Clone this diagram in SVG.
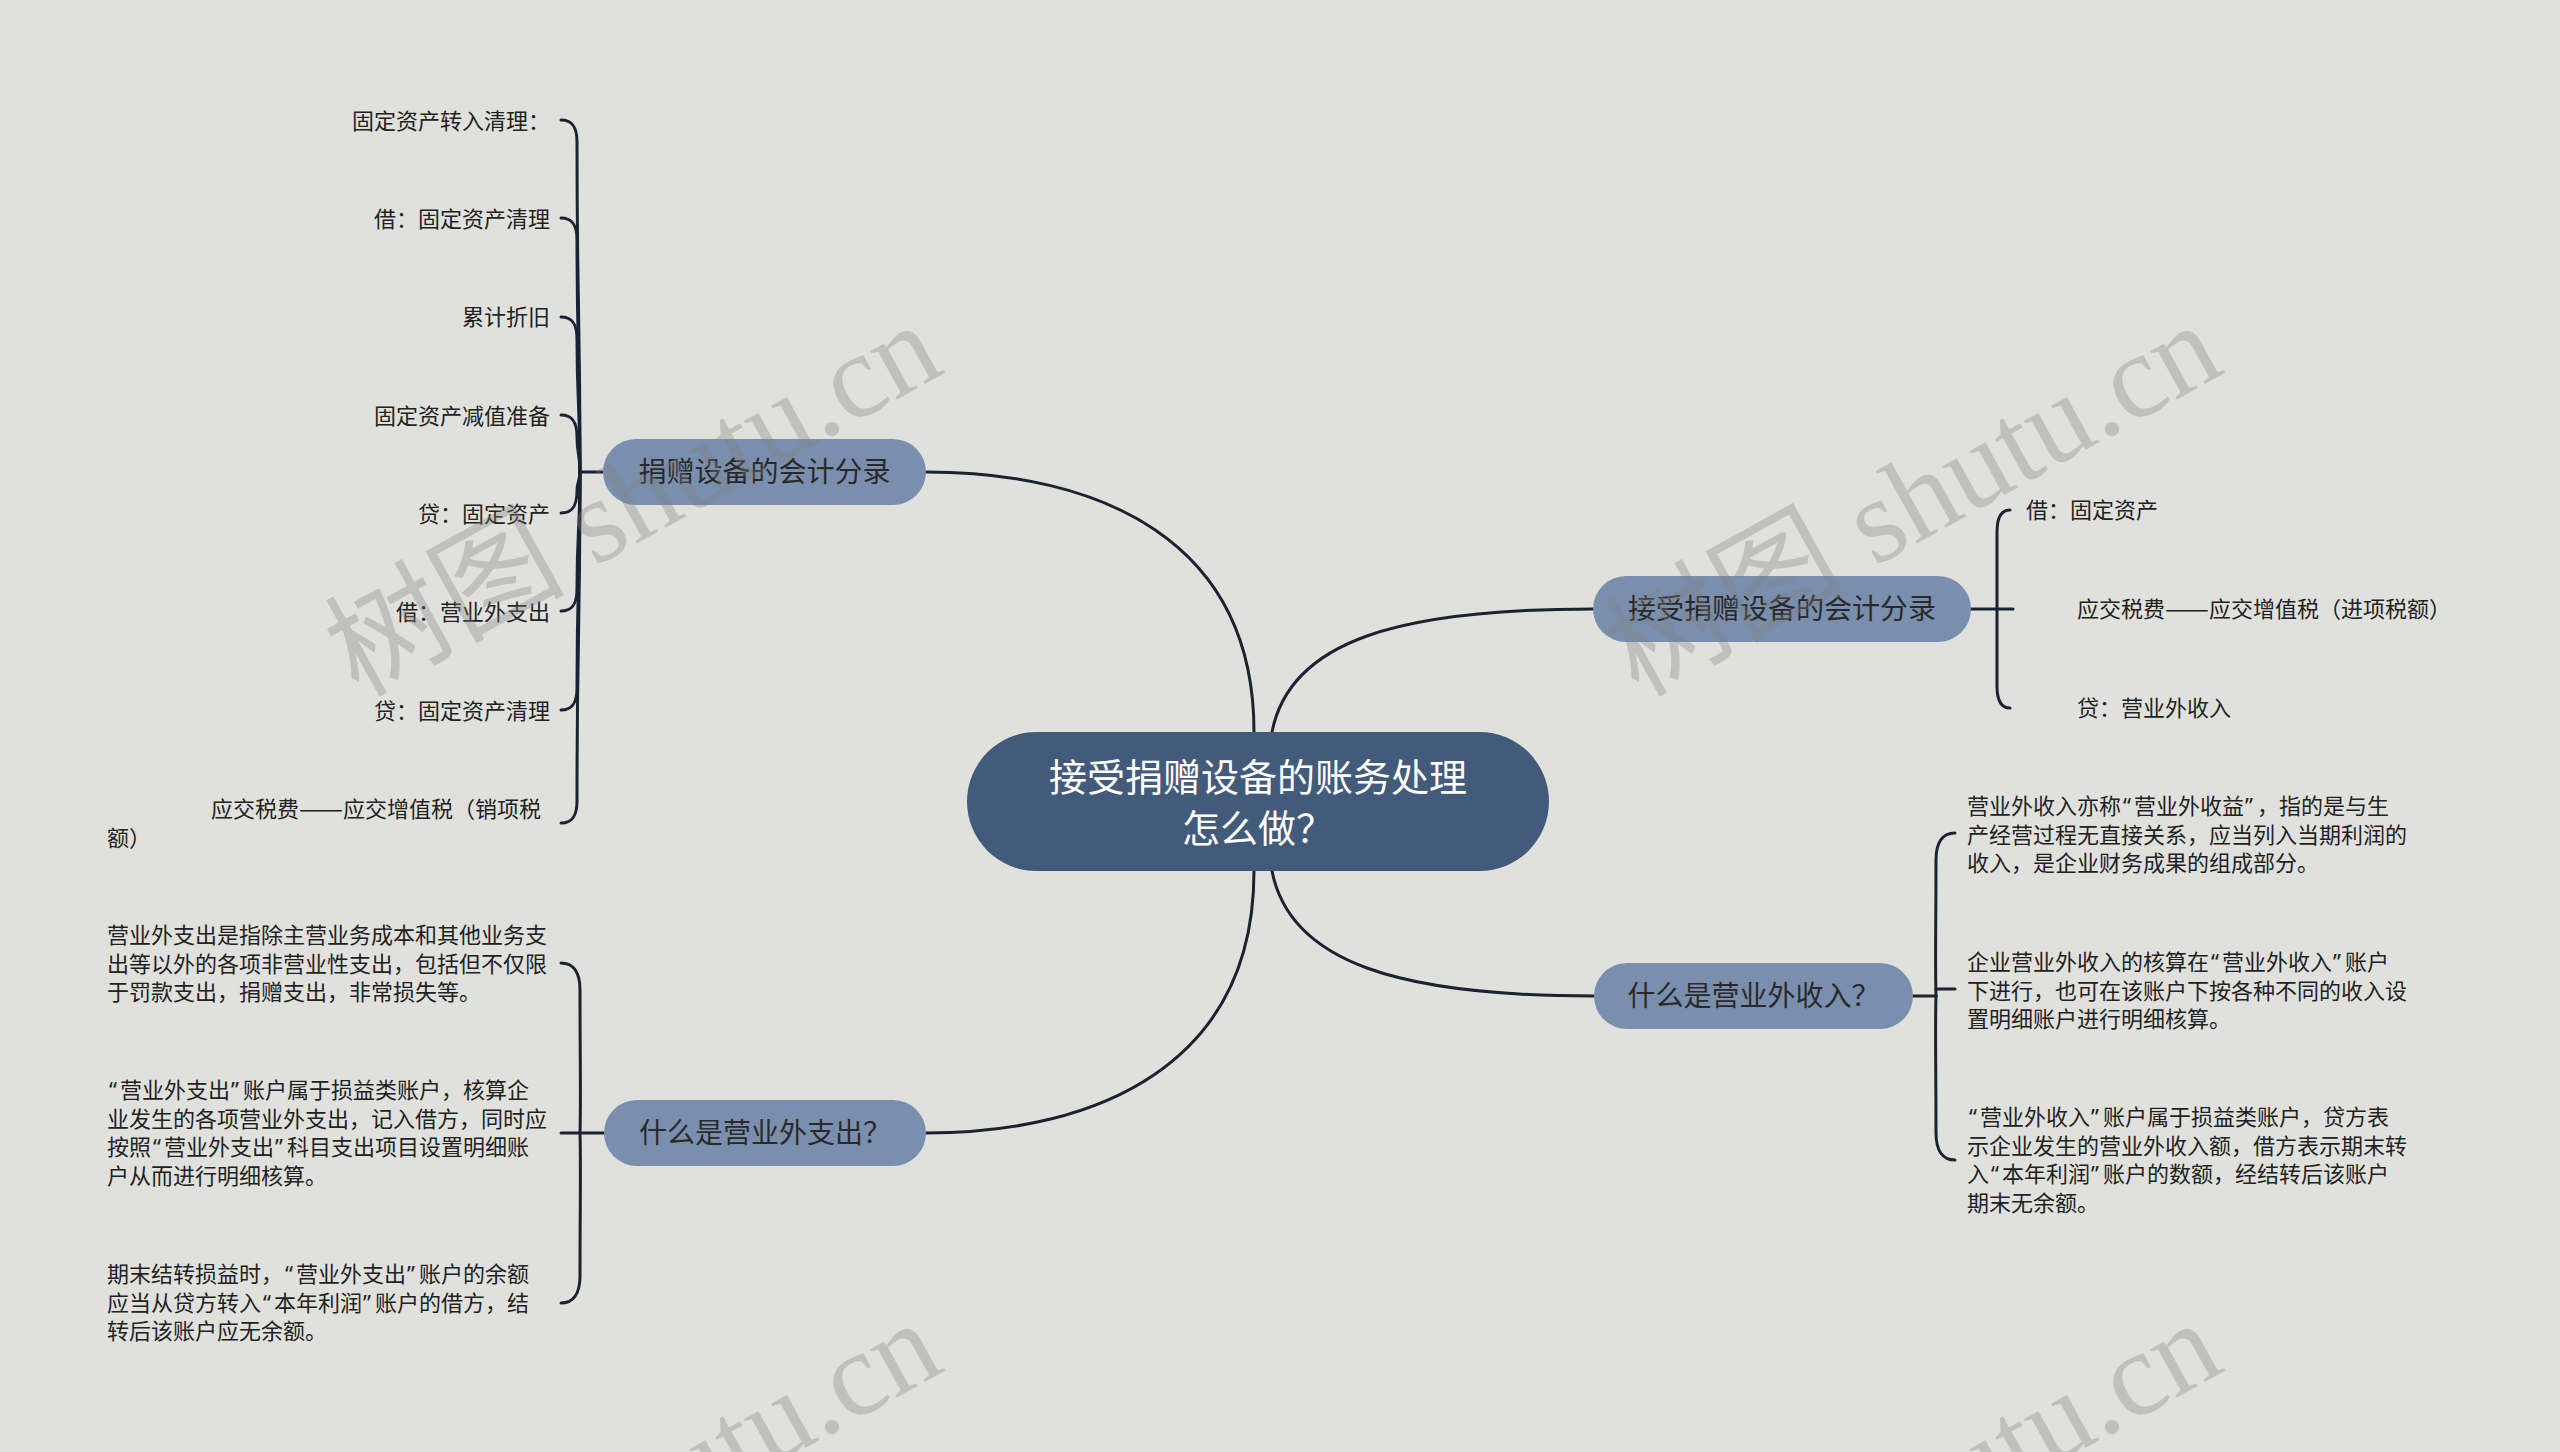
<svg xmlns="http://www.w3.org/2000/svg" width="2560" height="1452" viewBox="0 0 2560 1452">
<style>
.bg{fill:#e0e1dd}
.root{fill:#435b7a}
.sub{fill:#7a8fad}
.rt{font-family:"Noto Sans CJK SC","Noto Sans",sans-serif;font-size:38px;fill:#ffffff;text-anchor:middle}
.st{font-family:"Noto Sans CJK SC","Noto Sans",sans-serif;font-size:28px;fill:#2a2a2a;text-anchor:middle}
.lt{font-family:"Noto Sans CJK SC","Noto Sans",sans-serif;font-size:22px;fill:#222222}
.q{font-family:"Noto Sans","Noto Sans CJK SC",sans-serif}
.end{text-anchor:end}
.ln{fill:none;stroke:#1b2232;stroke-width:3;stroke-linecap:round}
.wm{font-family:"Liberation Serif","Noto Sans CJK SC",serif;font-size:120px;fill:#808080;fill-opacity:0.33}
</style>
<rect class="bg" x="0" y="0" width="2560" height="1452"/>

<g id="connectors">
  <path class="ln" d="M926,472 C1100,472 1254,540 1254,732"/>
  <path class="ln" d="M1272,732 C1290,640 1400,609 1593,609"/>
  <path class="ln" d="M1272,871 C1290,963 1400,996 1594,996"/>
  <path class="ln" d="M1254,871 C1254,1063 1100,1133 926,1133"/>

  <path class="ln" d="M603,472 L580,472"/>
  <path class="ln" d="M561,120 C573,120 577,128 577,142 C577,307 580,307 580,472"/>
  <path class="ln" d="M561,218 C573,218 577,226 577,240 C577,356 580,356 580,472"/>
  <path class="ln" d="M561,317 C573,317 577,325 577,339 C577,405 580,405 580,472"/>
  <path class="ln" d="M561,415 C573,415 577,423 577,437 C577,454 580,454 580,472"/>
  <path class="ln" d="M561,513 C573,513 577,505 577,491 C577,481 580,481 580,472"/>
  <path class="ln" d="M561,611 C573,611 577,603 577,589 C577,530 580,530 580,472"/>
  <path class="ln" d="M561,710 C573,710 577,702 577,688 C577,580 580,580 580,472"/>
  <path class="ln" d="M561,823 C573,823 577,815 577,801 C577,636 580,636 580,472"/>

  <path class="ln" d="M1971,609 L2013,609"/>
  <path class="ln" d="M2010,510 C2001,510 1997,518 1997,532 C1997,570 1997,590 1997,609"/>
  <path class="ln" d="M2010,708 C2001,708 1997,700 1997,686 C1997,648 1997,628 1997,609"/>

  <path class="ln" d="M1913,996 L1936,996"/>
  <path class="ln" d="M1936,989 L1955,989"/>
  <path class="ln" d="M1955,833 C1943,833 1936,842 1936,860 C1936,930 1935,960 1936,996"/>
  <path class="ln" d="M1955,1160 C1943,1160 1936,1151 1936,1133 C1936,1060 1935,1030 1936,996"/>

  <path class="ln" d="M604,1133 L561,1133"/>
  <path class="ln" d="M561,963 C573,963 580,972 580,990 C580,1060 581,1100 580,1133"/>
  <path class="ln" d="M561,1303 C573,1303 580,1294 580,1276 C580,1206 581,1166 580,1133"/>
</g>

<g id="root">
  <rect class="root" x="967" y="732" width="582" height="139" rx="69.5" ry="69.5"/>
  <text class="rt" x="1258" y="791">接受捐赠设备的账务处理</text>
  <text class="rt" x="1258" y="842">怎么做？</text>
</g>

<g id="node-juanzeng">
  <rect class="sub" x="603" y="439" width="323" height="66" rx="33" ry="33"/>
  <text class="st" x="764.5" y="482">捐赠设备的会计分录</text>
</g>
<g id="node-jieshou">
  <rect class="sub" x="1593" y="576" width="378" height="66" rx="33" ry="33"/>
  <text class="st" x="1782" y="619">接受捐赠设备的会计分录</text>
</g>
<g id="node-shouru">
  <rect class="sub" x="1594" y="963" width="319" height="66" rx="33" ry="33"/>
  <text class="st" x="1753.5" y="1006">什么是营业外收入？</text>
</g>
<g id="node-zhichu">
  <rect class="sub" x="604" y="1100" width="322" height="66" rx="33" ry="33"/>
  <text class="st" x="765" y="1143">什么是营业外支出？</text>
</g>

<g id="leaves-juanzeng">
  <text class="lt end" x="550" y="129">固定资产转入清理：</text>
  <text class="lt end" x="550" y="227">借：固定资产清理</text>
  <text class="lt end" x="550" y="325">累计折旧</text>
  <text class="lt end" x="550" y="424">固定资产减值准备</text>
  <text class="lt end" x="550" y="522">贷：固定资产</text>
  <text class="lt end" x="550" y="620">借：营业外支出</text>
  <text class="lt end" x="550" y="719">贷：固定资产清理</text>
  <text class="lt" x="211" y="817">应交税费<tspan x="299" textLength="44" lengthAdjust="spacingAndGlyphs">——</tspan><tspan x="343">应交增值税（销项税</tspan></text>
  <text class="lt" x="107" y="846">额）</text>
</g>

<g id="leaves-jieshou">
  <text class="lt" x="2026" y="518">借：固定资产</text>
  <text class="lt" x="2077" y="617">应交税费<tspan x="2165" textLength="44" lengthAdjust="spacingAndGlyphs">——</tspan><tspan x="2209">应交增值税（进项税额）</tspan></text>
  <text class="lt" x="2077" y="716">贷：营业外收入</text>
</g>

<g id="leaves-shouru">
  <text class="lt" x="1967" y="814">营业外收入亦称<tspan class="q" x="2123">“</tspan><tspan x="2134">营业外收益</tspan><tspan class="q" x="2245">”</tspan><tspan x="2257">，指的是与生</tspan></text>
  <text class="lt" x="1967" y="842.6">产经营过程无直接关系，应当列入当期利润的</text>
  <text class="lt" x="1967" y="871.2">收入，是企业财务成果的组成部分。</text>
  <text class="lt" x="1967" y="970">企业营业外收入的核算在<tspan class="q" x="2211">“</tspan><tspan x="2222">营业外收入</tspan><tspan class="q" x="2333">”</tspan><tspan x="2345">账户</tspan></text>
  <text class="lt" x="1967" y="998.6">下进行，也可在该账户下按各种不同的收入设</text>
  <text class="lt" x="1967" y="1027.2">置明细账户进行明细核算。</text>
  <text class="lt" x="1967" y="1125"><tspan class="q" x="1969">“</tspan><tspan x="1980">营业外收入</tspan><tspan class="q" x="2091">”</tspan><tspan x="2103">账户属于损益类账户，贷方表</tspan></text>
  <text class="lt" x="1967" y="1153.6">示企业发生的营业外收入额，借方表示期末转</text>
  <text class="lt" x="1967" y="1182.2">入<tspan class="q" x="1991">“</tspan><tspan x="2002">本年利润</tspan><tspan class="q" x="2091">”</tspan><tspan x="2103">账户的数额，经结转后该账户</tspan></text>
  <text class="lt" x="1967" y="1210.8">期末无余额。</text>
</g>

<g id="leaves-zhichu">
  <text class="lt" x="107" y="943">营业外支出是指除主营业务成本和其他业务支</text>
  <text class="lt" x="107" y="971.6">出等以外的各项非营业性支出，包括但不仅限</text>
  <text class="lt" x="107" y="1000.2">于罚款支出，捐赠支出，非常损失等。</text>
  <text class="lt" x="107" y="1098"><tspan class="q" x="109">“</tspan><tspan x="120">营业外支出</tspan><tspan class="q" x="231">”</tspan><tspan x="243">账户属于损益类账户，核算企</tspan></text>
  <text class="lt" x="107" y="1126.6">业发生的各项营业外支出，记入借方，同时应</text>
  <text class="lt" x="107" y="1155.2">按照<tspan class="q" x="153">“</tspan><tspan x="164">营业外支出</tspan><tspan class="q" x="275">”</tspan><tspan x="287">科目支出项目设置明细账</tspan></text>
  <text class="lt" x="107" y="1183.8">户从而进行明细核算。</text>
  <text class="lt" x="107" y="1282">期末结转损益时，<tspan class="q" x="285">“</tspan><tspan x="296">营业外支出</tspan><tspan class="q" x="407">”</tspan><tspan x="419">账户的余额</tspan></text>
  <text class="lt" x="107" y="1310.6">应当从贷方转入<tspan class="q" x="263">“</tspan><tspan x="274">本年利润</tspan><tspan class="q" x="363">”</tspan><tspan x="375">账户的借方，结</tspan></text>
  <text class="lt" x="107" y="1339.2">转后该账户应无余额。</text>
</g>

<g id="watermarks">
  <text class="wm" x="358" y="698" transform="rotate(-29 358 698)">树图 shutu.cn</text>
  <text class="wm" x="1638" y="698" transform="rotate(-29 1638 698)">树图 shutu.cn</text>
  <text class="wm" x="358" y="1696" transform="rotate(-29 358 1696)">树图 shutu.cn</text>
  <text class="wm" x="1638" y="1696" transform="rotate(-29 1638 1696)">树图 shutu.cn</text>
</g>
</svg>
